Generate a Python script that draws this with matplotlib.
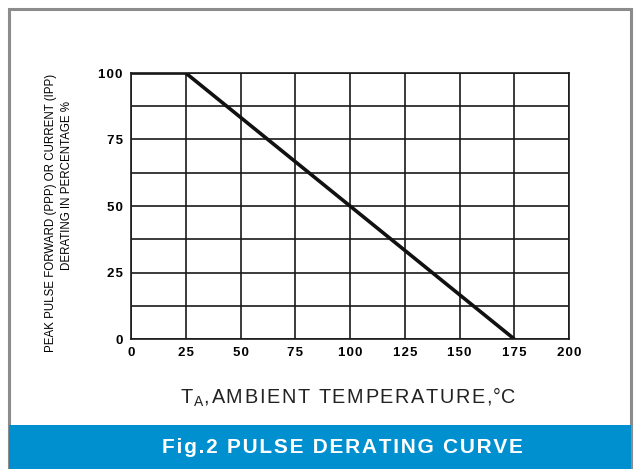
import matplotlib
matplotlib.use('Agg')
import matplotlib.pyplot as plt
from matplotlib.patches import Rectangle

# derating curve data
temp = [0, 25, 175]
percent = [100, 100, 0]
x_ticks = [0, 25, 50, 75, 100, 125, 150, 175, 200]
y_ticks = [0, 25, 50, 75, 100]
y_grid = [12.5, 37.5, 62.5, 87.5]

plt.rcParams['font.family'] = ['Liberation Sans', 'DejaVu Sans']

HS = '\u200a'  # hair space, used for letter spacing


def track(s):
    return HS.join(s)


W, H = 636, 469
fig = plt.figure(figsize=(W / 100, H / 100), dpi=100)

# frame around whole thing
fig.patches.append(Rectangle((9 / W, 0), 622 / W, 460 / H, transform=fig.transFigure,
                             fill=False, edgecolor='#8c8c8c', linewidth=2.2))
# blue title bar
fig.patches.append(Rectangle((9 / W, 0), 622 / W, 44 / H, transform=fig.transFigure,
                             facecolor='#0090d0', edgecolor='none'))
fig.text(342 / W, 22 / H, track('Fig.2 PULSE DERATING CURVE'), color='white', fontsize=15,
         fontweight='bold', ha='center', va='center')

left, right, top, bottom = 131, 569, 73, 339
ax = fig.add_axes([left / W, 1 - bottom / H, (right - left) / W, (bottom - top) / H])

for v in x_ticks:
    ax.axvline(v, color='#1a1a1a', linewidth=1.2)
for v in y_ticks + y_grid:
    ax.axhline(v, color='#1a1a1a', linewidth=1.2)

ax.plot(temp, percent, color='#111111', linewidth=2.6, solid_capstyle='butt')

ax.set_xlim(0, 200)
ax.set_ylim(0, 100)
ax.set_xticks(x_ticks)
ax.set_yticks(y_ticks)
ax.set_xticklabels([track(str(t)) for t in x_ticks], fontsize=9.5, fontweight='bold')
ax.set_yticklabels([track(str(t)) for t in y_ticks], fontsize=9.5, fontweight='bold')
ax.tick_params(length=0, pad=6)
ax.tick_params(axis='x', pad=6)
for s in ax.spines.values():
    s.set_color('#1a1a1a')
    s.set_linewidth(1.2)

# y label, two lines
fig.text(51 / W, 1 - 213 / H, 'PEAK PULSE FORWARD (PPP) OR CURRENT (IPP)', rotation=90,
         fontsize=8.3, ha='center', va='center')
fig.text(67 / W, 1 - 185 / H, 'DERATING IN PERCENTAGE %', rotation=90,
         fontsize=8.3, ha='center', va='center')

# x label
xl = 'T' + HS + '$_{\\mathregular{A}}$,' + HS + track('AMBIENT TEMPERATURE,') + '°C'
fig.text(348 / W, 1 - 397 / H, xl, fontsize=14.3, ha='center', va='center', color='#222222')

fig.savefig('out.png', dpi=100)
